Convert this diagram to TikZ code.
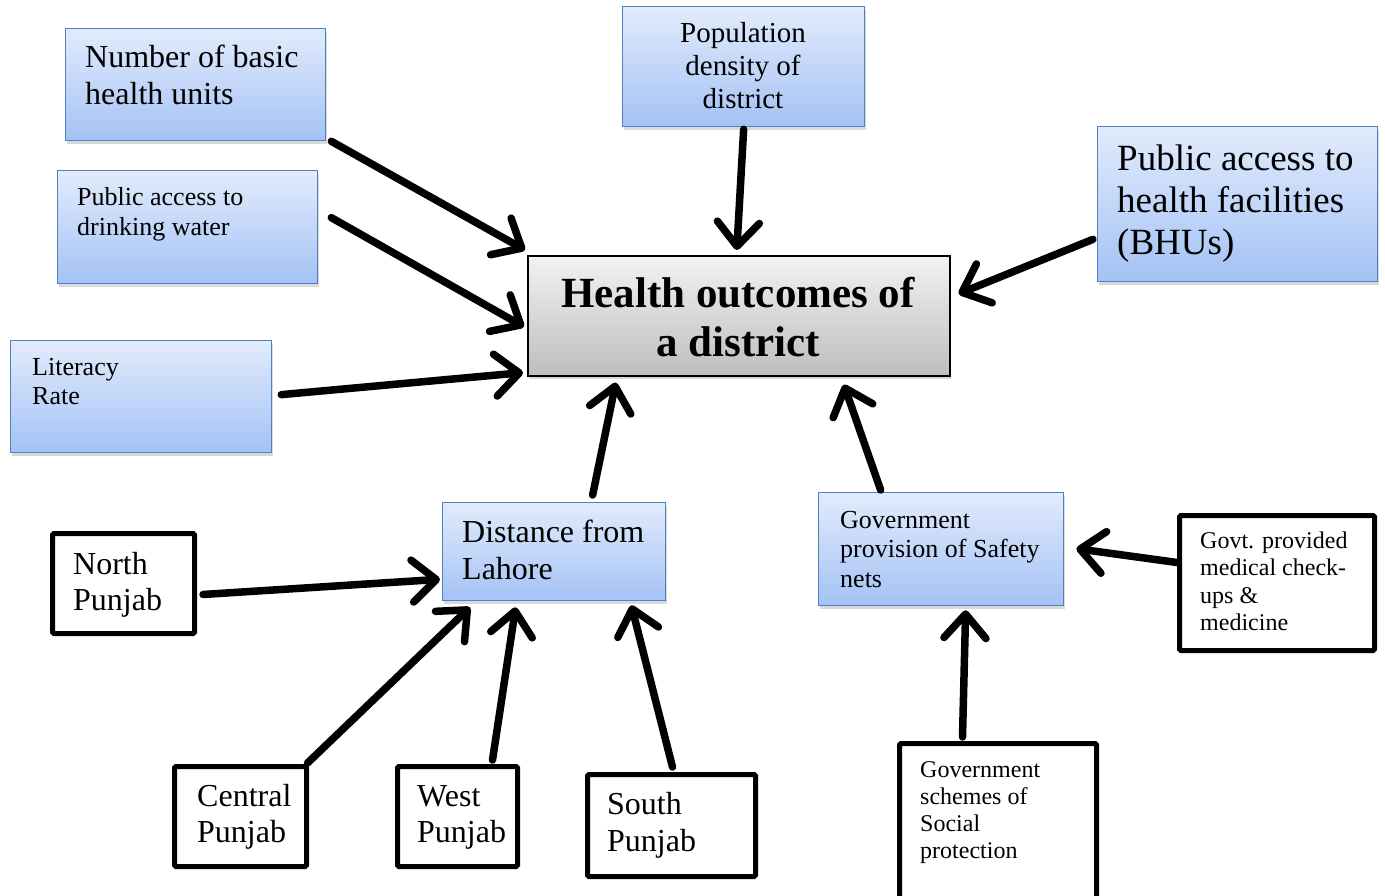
\documentclass[tikz,border=0pt]{standalone}
\usepackage{fontspec}
\setmainfont{Liberation Serif}
\usetikzlibrary{arrows.meta,calc,shadows}
\definecolor{bluetop}{RGB}{226,235,252}
\definecolor{bluebot}{RGB}{164,194,245}
\definecolor{bluebd}{RGB}{79,129,189}
\definecolor{graytop}{RGB}{242,242,242}
\definecolor{graybot}{RGB}{190,190,190}
\tikzset{
  bluebox/.style={draw=bluebd, line width=1.3pt, top color=bluetop, bottom color=bluebot,
    drop shadow={shadow xshift=1.5pt, shadow yshift=-3pt, opacity=0.3}},
  graybox/.style={draw=black, line width=1.6pt, top color=graytop, bottom color=graybot,
    drop shadow={shadow xshift=1.5pt, shadow yshift=-3pt, opacity=0.3}},
  blackbox/.style={draw=black, line width=5pt, fill=white, rounded corners=1.5pt},
  txt/.style={anchor=base west, align=left, inner sep=0pt},
  arr/.style={line width=7.5pt, line cap=round, line join=round, -{Straight Barb[length=24pt,width=42pt,round]}},
}
\newcommand{\fs}[2]{\fontsize{#1}{#2}\selectfont}
\begin{document}
\begin{tikzpicture}[x=1pt,y=-1pt]
\useasboundingbox (0,0) rectangle (1385,896);
% boxes
\node[bluebox, anchor=north west, minimum width=260pt, minimum height=112pt] (b1) at (65,28) {};
\node[bluebox, anchor=north west, minimum width=260pt, minimum height=113pt] (b2) at (57,170) {};
\node[bluebox, anchor=north west, minimum width=261pt, minimum height=112pt] (b3) at (10,340) {};
\node[bluebox, anchor=north west, minimum width=242pt, minimum height=120pt] (b4) at (622,6) {};
\node[bluebox, anchor=north west, minimum width=280pt, minimum height=155pt] (b5) at (1097,126) {};
\node[graybox, anchor=north west, minimum width=422pt, minimum height=120pt] (hc) at (527,255) {};
\node[bluebox, anchor=north west, minimum width=223pt, minimum height=98pt] (dl) at (442,502) {};
\node[bluebox, anchor=north west, minimum width=245pt, minimum height=113pt] (gp) at (818,492) {};
\node[blackbox, anchor=north west, minimum width=195pt, minimum height=135pt] (md) at (1177,513) {};
\node[blackbox, anchor=north west, minimum width=197pt, minimum height=160pt] (ss) at (897,741) {};
\node[blackbox, anchor=north west, minimum width=142pt, minimum height=100pt] (np) at (50,531) {};
\node[blackbox, anchor=north west, minimum width=132pt, minimum height=100pt] (cp) at (172,764) {};
\node[blackbox, anchor=north west, minimum width=120pt, minimum height=100pt] (wp) at (395,764) {};
\node[blackbox, anchor=north west, minimum width=168pt, minimum height=102pt] (sp) at (585,772) {};
% texts (anchored at baseline of last line)
\node[txt, font=\fs{32}{37}] (t1) at (85,105) {Number of basic\\health units};
\node[txt, font=\fs{26}{30}] (t2) at (77,236) {Public access to\\drinking water};
\node[txt, font=\fs{26}{29.5}] (t3) at (32,404.5) {Literacy\\Rate};
\node[anchor=base, align=center, inner sep=0pt, font=\fs{29}{33}] (t4) at (743,109) {Population\\density of\\district};
\node[txt, font=\fs{37}{42.5}] (t5) at (1117,255) {Public access to\\health facilities\\(BHUs)};
\node[anchor=base, align=center, inner sep=0pt, font=\fs{43}{49}\bfseries] (t6) at (738,356) {Health outcomes of\\a district};
\node[txt, font=\fs{32}{37}] (t7) at (462,579) {Distance from\\Lahore};
\node[txt, font=\fs{26}{29.5}] (t8) at (840,587) {Government\\provision of Safety\\nets};
\node[txt, font=\fs{24}{27.5}] (t9) at (1200,630.5) {Govt. provided\\medical check-\\ups \&\\medicine};
\node[txt, font=\fs{24}{27}] (t10) at (920,858) {Government\\schemes of\\Social\\protection};
\node[txt, font=\fs{32}{36.5}] (t11) at (73,610.5) {North\\Punjab};
\node[txt, font=\fs{32}{36}] (t12) at (197,842) {Central\\Punjab};
\node[txt, font=\fs{32}{36}] (t13) at (417,842) {West\\Punjab};
\node[txt, font=\fs{32}{37}] (t14) at (607,851) {South\\Punjab};
% arrows
\draw[arr] ($(b1.south east)+(5,0)$) -- ($(hc.north west)+(-2,-5)$);
\draw[arr] ($(b2.east)+(13,-9.5)$) -- ($(hc.west)+(-3,11)$);
\draw[arr] ($(b3.east)+(9,-2)$) -- ($(hc.south west)+(-4,-4)$);
\draw[arr] ($(b4.south)+(0,2)$) -- ($(hc.north)+(-2,-5)$);
\draw[arr] ($(b5.south west)+(-4,-43)$) -- ($(hc.east)+(8,-22)$);
\draw[arr] ($(dl.north)+(38.5,-7)$) -- ($(hc.south)+(-123,6)$);
\draw[arr] ($(gp.north)+(-60.5,-2)$) -- ($(hc.south)+(105,8)$);
\draw[arr] ($(np.east)+(6,11)$) -- ($(dl.south west)+(-2,-22)$);
\draw[arr] ($(cp.north)+(67,-1)$) -- ($(dl.south west)+(28,6)$);
\draw[arr] ($(wp.north)+(35,-4)$) -- ($(dl.south)+(-38.5,6)$);
\draw[arr] ($(sp.north)+(1,-5)$) -- ($(dl.south east)+(-35,4)$);
\draw[arr] ($(md.west)+(0,-20.5)$) -- ($(gp.east)+(12,-0.5)$);
\draw[arr] ($(ss.north)+(-35.5,-4)$) -- ($(gp.south)+(24.5,4)$);
\end{tikzpicture}
\end{document}
